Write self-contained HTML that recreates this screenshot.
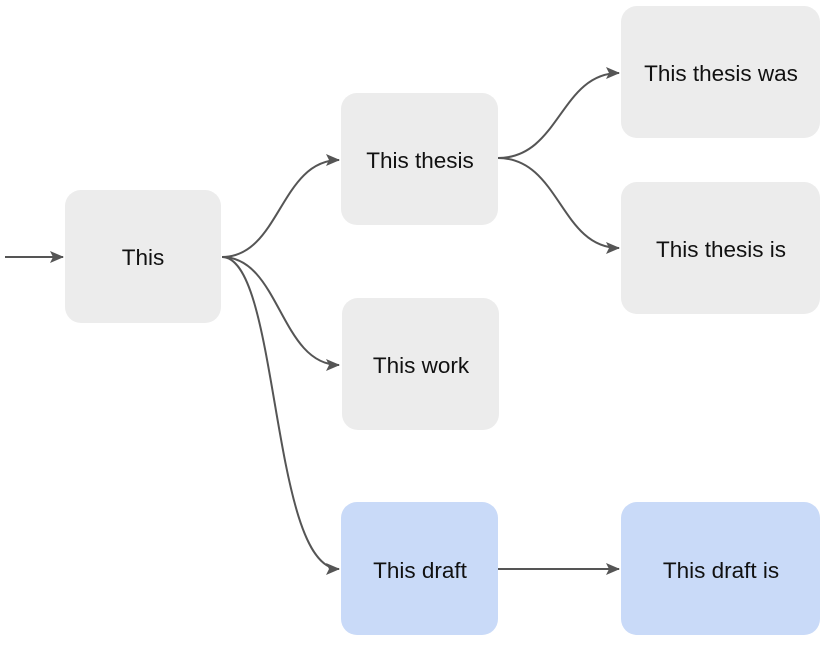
<!DOCTYPE html>
<html><head><meta charset="utf-8"><style>
html,body{margin:0;padding:0;background:#fff;width:840px;height:646px;overflow:hidden}
svg{display:block}
text{font-family:"Liberation Sans",sans-serif;font-size:22.5px;fill:#111}
</style></head><body>
<svg width="840" height="646" viewBox="0 0 840 646">
<defs><marker id="a" markerWidth="14" markerHeight="12" refX="13" refY="6" orient="auto" markerUnits="userSpaceOnUse"><path d="M0,0 L14,6 L0,12 L3,6 z" fill="#555"/></marker></defs>
<g fill="#ececec">
<rect x="65" y="190" width="156" height="133" rx="16"/>
<rect x="341" y="93" width="157" height="132" rx="16"/>
<rect x="342" y="298" width="157" height="132" rx="16"/>
<rect x="621" y="6" width="199" height="132" rx="16"/>
<rect x="621" y="182" width="199" height="132" rx="16"/>
</g>
<g fill="#c9daf8">
<rect x="341" y="502" width="157" height="133" rx="16"/>
<rect x="621" y="502" width="199" height="133" rx="16"/>
</g>
<g stroke="#555" stroke-width="2" fill="none" marker-end="url(#a)">
<path d="M5,257 L63,257"/>
<path d="M222,257 C280,257 280,160 339,160"/>
<path d="M222,257 C280,257 280,365 339,365"/>
<path d="M222,257 C280,257 270,569 339,569"/>
<path d="M498,158 C560,158 560,73 619,73"/>
<path d="M498,158 C560,158 560,248 619,248"/>
<path d="M498,569 L619,569"/>
</g>
<g text-anchor="middle">
<text x="143" y="265">This</text>
<text x="420" y="168">This thesis</text>
<text x="421" y="373">This work</text>
<text x="420" y="578">This draft</text>
<text x="721" y="81">This thesis was</text>
<text x="721" y="257">This thesis is</text>
<text x="721" y="578">This draft is</text>
</g>
</svg>
</body></html>
